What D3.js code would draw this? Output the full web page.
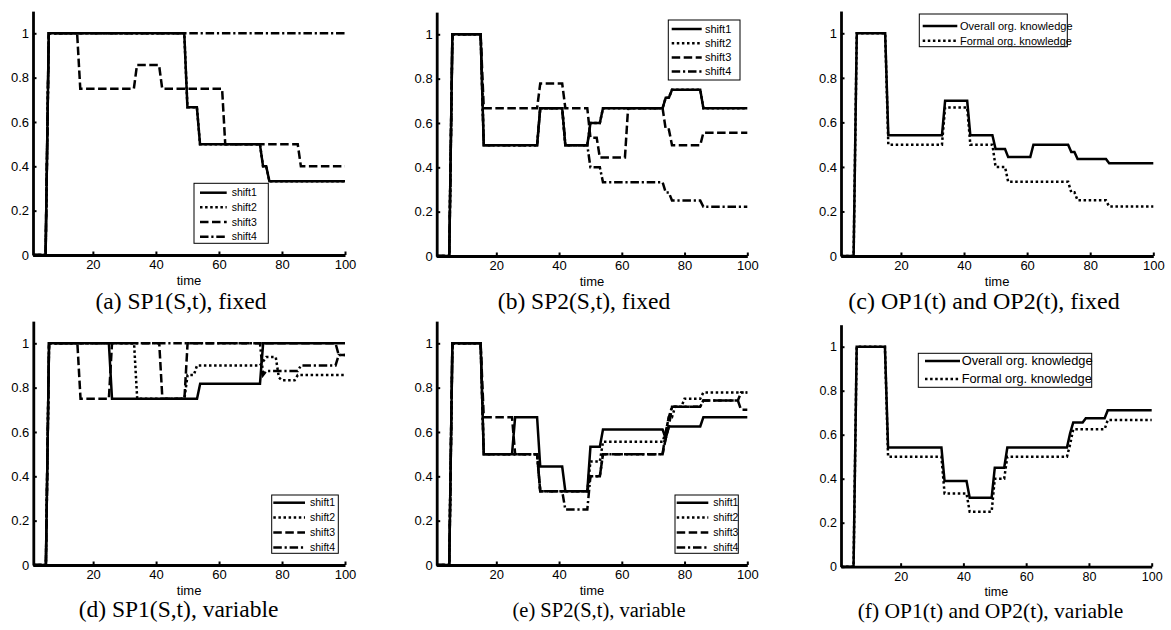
<!DOCTYPE html>
<style>
body { margin: 0; background: #fff; }
svg { display: block; }
.axis text { font-family: "Liberation Sans", Arial, sans-serif; fill: #000; }
.axis path, .axis line { stroke: #000; }
.cap { font-family: "Liberation Serif", "Times New Roman", serif; }
.leg text { font-family: "Liberation Sans", Arial, sans-serif; }
</style>
<svg width="1171" height="630"></svg>
<script src="https://d3js.org/d3.v7.min.js"></script>
<script>

// ---- data: polyline vertices [time, value] ----
var xTicks = [20, 40, 60, 80, 100];
var yTicks = [0, 0.2, 0.4, 0.6, 0.8, 1];
var shiftNames = ["shift1", "shift2", "shift3", "shift4"];
var orgNames = ["Overall org. knowledge", "Formal org. knowledge"];
var captions = ["(a) SP1(S,t), fixed", "(b) SP2(S,t), fixed", "(c) OP1(t) and OP2(t), fixed",
                "(d) SP1(S,t), variable", "(e) SP2(S,t), variable", "(f) OP1(t) and OP2(t), variable"];

var sp1Fixed = [
  [[1,0],[5,0],[6,1],[49,1],[50,0.667],[53,0.667],[54,0.5],[73,0.5],[74,0.4],[75,0.4],[76,0.333],[100,0.333]],
  [[1,0],[5,0],[6,1],[49,1],[50,0.667],[53,0.667],[54,0.5],[73,0.5],[74,0.4],[75,0.4],[76,0.333],[100,0.333]],
  [[1,0],[5,0],[6,1],[15,1],[16,0.75],[33,0.75],[34,0.857],[41,0.857],[42,0.75],[61,0.75],[62,0.5],[85,0.5],[86,0.4],[100,0.4]],
  [[1,0],[5,0],[6,1],[100,1]]
];

var sp2Fixed = [
  [[1,0],[5,0],[6,1],[15,1],[16,0.5],[33,0.5],[34,0.667],[41,0.667],[42,0.5],[49,0.5],[50,0.6],[53,0.6],[54,0.667],[73,0.667],[74,0.714],[75,0.714],[76,0.75],[85,0.75],[86,0.667],[100,0.667]],
  [[1,0],[5,0],[6,1],[15,1],[16,0.5],[33,0.5],[34,0.667],[41,0.667],[42,0.5],[49,0.5],[50,0.6],[53,0.6],[54,0.667],[73,0.667],[74,0.714],[75,0.714],[76,0.75],[85,0.75],[86,0.667],[100,0.667]],
  [[1,0],[5,0],[6,1],[15,1],[16,0.667],[33,0.667],[34,0.778],[41,0.778],[42,0.667],[49,0.667],[50,0.533],[52,0.533],[53,0.444],[61,0.444],[62,0.667],[73,0.667],[74,0.571],[75,0.571],[76,0.5],[85,0.5],[86,0.556],[100,0.556]],
  [[1,0],[5,0],[6,1],[15,1],[16,0.5],[33,0.5],[34,0.667],[41,0.667],[42,0.5],[49,0.5],[50,0.4],[53,0.4],[54,0.333],[73,0.333],[74,0.286],[75,0.286],[76,0.25],[85,0.25],[86,0.222],[100,0.222]]
];

var opFixed = [
  [[1,0],[5,0],[6,1],[15,1],[16,0.542],[33,0.542],[34,0.697],[41,0.697],[42,0.542],[49,0.542],[50,0.48],[53,0.48],[54,0.444],[61,0.444],[62,0.5],[73,0.5],[74,0.467],[75,0.467],[76,0.436],[85,0.436],[86,0.417],[100,0.417]],
  [[1,0],[5,0],[6,1],[15,1],[16,0.5],[33,0.5],[34,0.667],[41,0.667],[42,0.5],[49,0.5],[50,0.4],[53,0.4],[54,0.333],[73,0.333],[74,0.286],[75,0.286],[76,0.25],[85,0.25],[86,0.222],[100,0.222]]
];

var sp1Var = [
  [[1,0],[5,0],[6,1],[25,1],[26,0.75],[53,0.75],[54,0.818],[73,0.818],[74,1],[100,1]],
  [[1,0],[5,0],[6,1],[33,1],[34,0.75],[49,0.75],[50,0.857],[52,0.857],[53,0.9],[73,0.9],[75,0.938],[78,0.938],[79,0.846],[80,0.833],[84,0.833],[85,0.857],[100,0.857]],
  [[1,0],[5,0],[6,1],[15,1],[16,0.75],[25,0.75],[26,1],[41,1],[42,0.75],[49,0.75],[50,1],[97,1],[98,0.947],[100,0.947]],
  [[1,0],[5,0],[6,1],[73,1],[74,0.857],[75,0.875],[85,0.875],[86,0.9],[97,0.9],[98,0.947],[100,0.947]]
];

var sp2Var = [
  [[1,0],[5,0],[6,1],[15,1],[16,0.5],[25,0.5],[26,0.667],[33,0.667],[34,0.444],[41,0.444],[42,0.333],[49,0.333],[50,0.533],[53,0.533],[54,0.611],[73,0.611],[74,0.571],[75,0.625],[85,0.625],[86,0.667],[100,0.667]],
  [[1,0],[5,0],[6,1],[15,1],[16,0.5],[33,0.5],[34,0.333],[49,0.333],[50,0.467],[53,0.467],[54,0.556],[73,0.556],[74,0.6],[75,0.667],[76,0.667],[77,0.714],[79,0.714],[80,0.75],[85,0.75],[86,0.778],[100,0.778]],
  [[1,0],[5,0],[6,1],[15,1],[16,0.667],[25,0.667],[26,0.5],[33,0.5],[34,0.333],[49,0.333],[50,0.4],[53,0.4],[54,0.5],[73,0.5],[74,0.571],[75,0.625],[76,0.714],[85,0.714],[86,0.742],[97,0.742],[98,0.7],[100,0.7]],
  [[1,0],[5,0],[6,1],[15,1],[16,0.5],[33,0.5],[34,0.333],[41,0.333],[42,0.25],[49,0.25],[50,0.4],[53,0.4],[54,0.5],[73,0.5],[74,0.6],[75,0.667],[76,0.714],[85,0.714],[86,0.742],[97,0.742],[98,0.778],[100,0.778]]
];

var opVar = [
  [[1,0],[5,0],[6,1],[15,1],[16,0.542],[33,0.542],[34,0.389],[41,0.389],[42,0.313],[49,0.313],[50,0.45],[53,0.45],[54,0.542],[73,0.542],[74,0.606],[75,0.656],[78,0.656],[79,0.675],[85,0.675],[86,0.711],[100,0.711]],
  [[1,0],[5,0],[6,1],[15,1],[16,0.5],[33,0.5],[34,0.333],[41,0.333],[42,0.25],[49,0.25],[50,0.4],[53,0.4],[54,0.5],[73,0.5],[74,0.556],[75,0.625],[85,0.625],[86,0.667],[100,0.667]]
];

// ---- layout ----
var dashes = [null, "2.5,2.6", "8.5,3.5", "8.5,2.8,2.2,2.8"];

var panels = [
  {series: sp1Fixed, names: shiftNames, x0: 33, x1: 345, y0: 255, y1: 33.3, tick: 13,
   cap: [181, 309, 23.5], leg: {x: 194, y: 183.3, w: 74.3, h: 60, row: 192.7, step: 14.67, lx: [200, 226.7], tx: 231.7, fs: 10.5}},
  {series: sp2Fixed, names: shiftNames, x0: 436.7, x1: 747.3, y0: 256, y1: 34.3, tick: 13,
   cap: [584, 309, 23.5], leg: {x: 668.3, y: 20, w: 71.7, h: 60, row: 29, step: 14.2, lx: [671.7, 701.7], tx: 705, fs: 11}},
  {series: opFixed, names: orgNames, x0: 841, x1: 1153.3, y0: 256, y1: 33.3, tick: 13,
   cap: [984, 309, 24], leg: {x: 919.3, y: 14, w: 148, h: 32.7, row: 26, step: 14.7, lx: [922.7, 957.3], tx: 960, fs: 11}},
  {series: sp1Var, names: shiftNames, x0: 33.3, x1: 345, y0: 565, y1: 343.3, tick: 13,
   cap: [178.5, 617, 23.5], leg: {x: 271.7, y: 495, w: 66.6, h: 58.3, row: 502.7, step: 14.9, lx: [273.3, 305], tx: 310, fs: 10.5}},
  {series: sp2Var, names: shiftNames, x0: 436.7, x1: 747.3, y0: 565, y1: 343.3, tick: 13,
   cap: [599, 617, 20.5], leg: {x: 675, y: 495, w: 63.3, h: 58.3, row: 502.7, step: 14.9, lx: [676.7, 708.3], tx: 713.3, fs: 10.5}},
  {series: opVar, names: orgNames, x0: 841, x1: 1151.7, y0: 566.7, y1: 346.7, tick: 12.5,
   cap: [990.5, 618, 21.5], leg: {x: 918.3, y: 353.3, w: 173.4, h: 34, row: 361, step: 18, lx: [925, 960], tx: 961.7, fs: 12.8}}
];

var svg = d3.select("svg");

panels.forEach(function(p, i) {
  var top = p.y0 - 1.1 * (p.y0 - p.y1);
  var x = d3.scaleLinear().domain([1, 100]).range([p.x0, p.x1]);
  var y = d3.scaleLinear().domain([0, 1.1]).range([p.y0, top]);
  var g = svg.append("g");

  var line = d3.line()
    .x(function(d) { return x(d[0]); })
    .y(function(d) { return y(d[1]); });

  // curves
  g.selectAll("path.curve")
    .data(p.series)
    .enter().append("path")
    .attr("class", "curve")
    .attr("d", line)
    .attr("fill", "none")
    .attr("stroke", "#000")
    .attr("stroke-width", 2.5)
    .attr("stroke-dasharray", function(d, k) { return dashes[k]; });

  // axes, ticks pointing inwards
  var gx = g.append("g")
    .attr("class", "axis")
    .attr("transform", "translate(0," + p.y0 + ")")
    .call(d3.axisBottom(x).tickValues(xTicks).tickSizeInner(-3.5).tickSizeOuter(0).tickPadding(5));
  var gy = g.append("g")
    .attr("class", "axis")
    .attr("transform", "translate(" + p.x0 + ",0)")
    .call(d3.axisLeft(y).tickValues(yTicks).tickSizeInner(-3.5).tickSizeOuter(0).tickPadding(4)
      .tickFormat(function(d) { return d === 0 || d === 1 ? d : d3.format(".1f")(d); }));
  [gx, gy].forEach(function(a) {
    a.select(".domain").attr("stroke-width", 2.8);
    a.selectAll(".tick line").attr("stroke-width", 2);
    a.selectAll(".tick text").style("font-size", p.tick + "px");
  });

  g.append("text")
    .attr("class", "axis")
    .attr("x", (p.x0 + p.x1) / 2)
    .attr("y", p.y0 + 29.5)
    .attr("text-anchor", "middle")
    .style("font-family", "'Liberation Sans', Arial, sans-serif")
    .style("font-size", p.tick + "px")
    .text("time");

  // legend
  var L = p.leg;
  var leg = g.append("g").attr("class", "leg");
  leg.append("rect")
    .attr("x", L.x).attr("y", L.y).attr("width", L.w).attr("height", L.h)
    .attr("fill", "#fff").attr("stroke", "#000").attr("stroke-width", 1);
  var rows = leg.selectAll("g.row")
    .data(p.names)
    .enter().append("g")
    .attr("class", "row")
    .attr("transform", function(d, k) { return "translate(0," + (L.row + k * L.step) + ")"; });
  rows.append("line")
    .attr("x1", L.lx[0]).attr("x2", L.lx[1])
    .attr("stroke", "#000").attr("stroke-width", 2.5)
    .attr("stroke-dasharray", function(d, k) { return dashes[k]; });
  rows.append("text")
    .attr("x", L.tx)
    .attr("dy", "0.35em")
    .style("font-size", L.fs + "px")
    .text(function(d) { return d; });

  // caption
  g.append("text")
    .attr("class", "cap")
    .attr("x", p.cap[0])
    .attr("y", p.cap[1])
    .attr("text-anchor", "middle")
    .style("font-size", p.cap[2] + "px")
    .text(captions[i]);
});

</script>
